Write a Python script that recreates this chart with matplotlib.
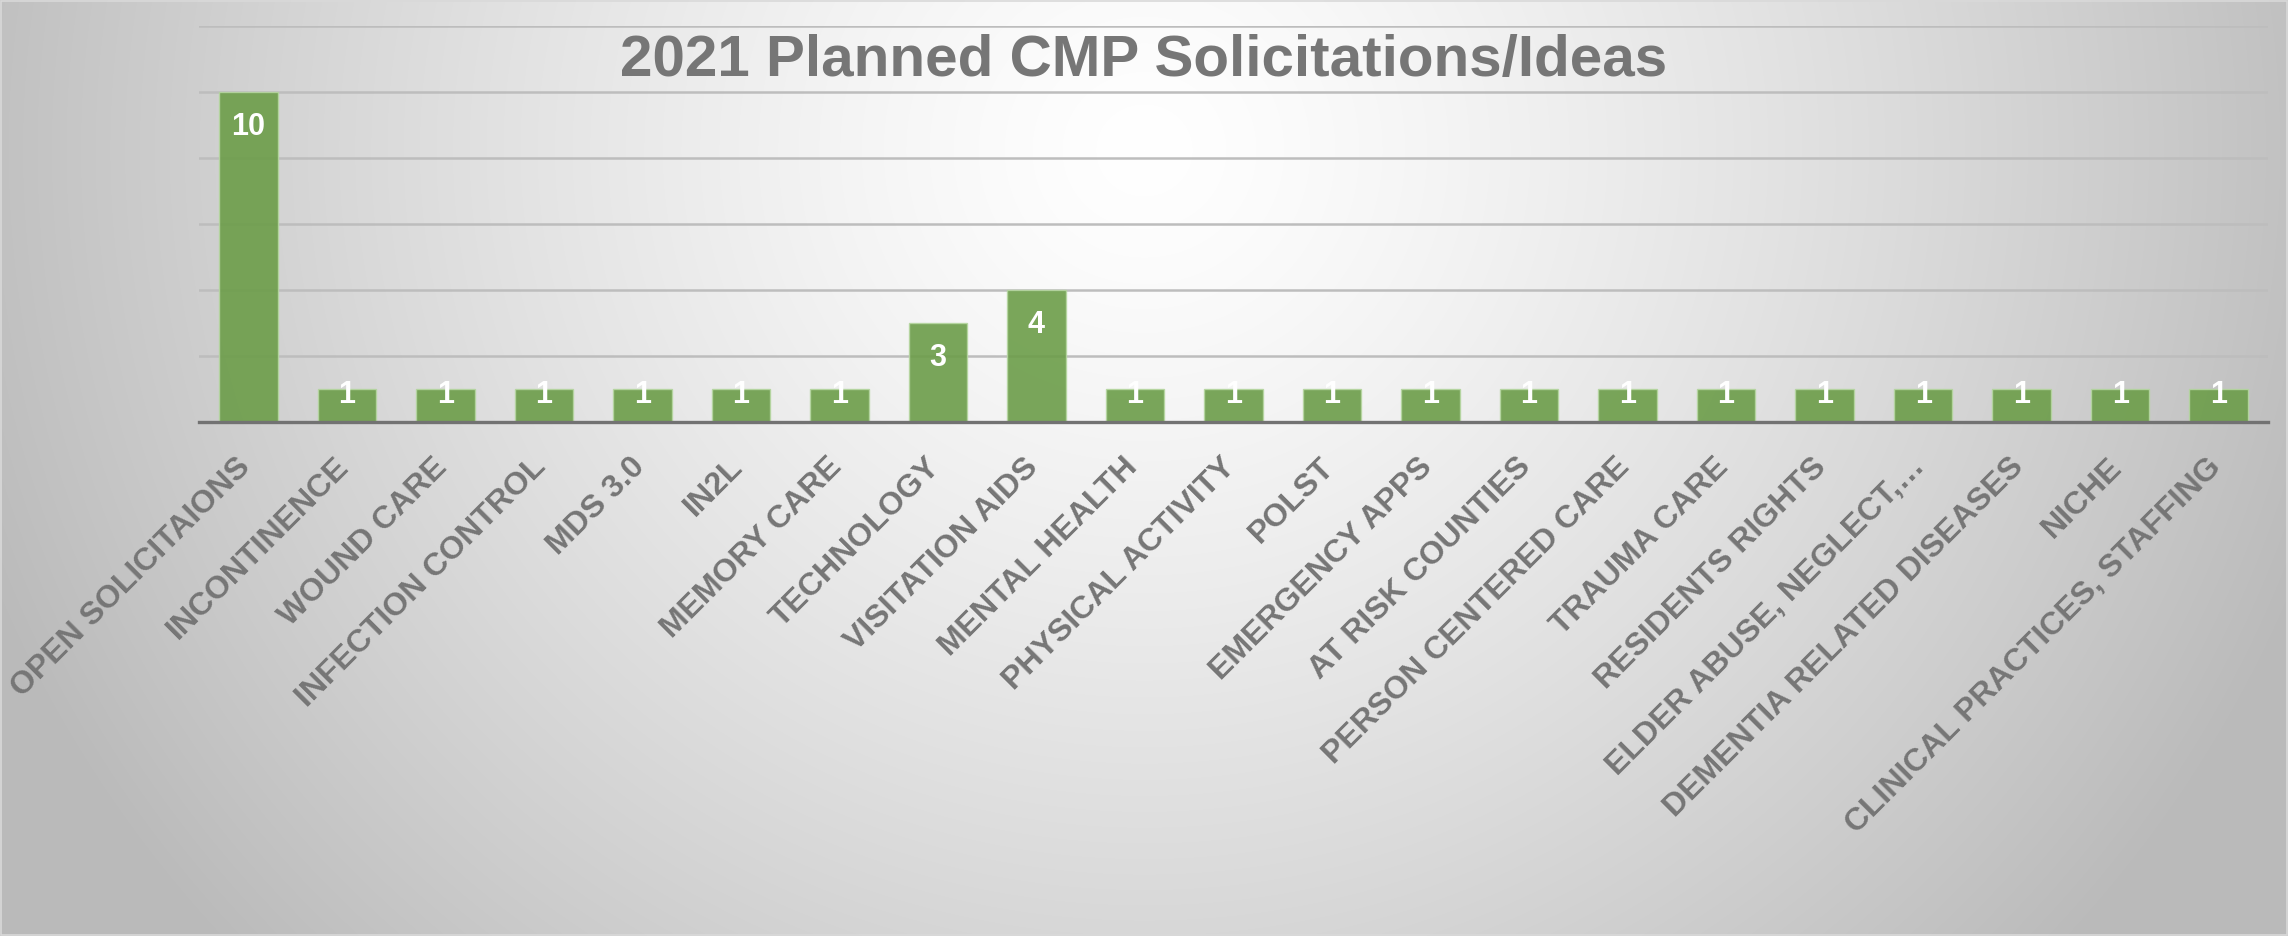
import numpy as np
import matplotlib
matplotlib.use("Agg")
import matplotlib.pyplot as plt
from matplotlib.transforms import ScaledTranslation
from matplotlib.patches import Rectangle

categories = [
    "OPEN SOLICITAIONS", "INCONTINENCE", "WOUND CARE", "INFECTION CONTROL",
    "MDS 3.0", "IN2L", "MEMORY CARE", "TECHNOLOGY", "VISITATION AIDS",
    "MENTAL HEALTH", "PHYSICAL ACTIVITY", "POLST", "EMERGENCY APPS",
    "AT RISK COUNTIES", "PERSON CENTERED CARE", "TRAUMA CARE",
    "RESIDENTS RIGHTS", "ELDER ABUSE, NEGLECT,…", "DEMENTIA RELATED DISEASES",
    "NICHE", "CLINICAL PRACTICES, STAFFING",
]
values = [10, 1, 1, 1, 1, 1, 1, 3, 4, 1, 1, 1, 1, 1, 1, 1, 1, 1, 1, 1, 1]
title = "2021 Planned CMP Solicitations/Ideas"

plt.rcParams['font.family'] = ['Liberation Sans', 'DejaVu Sans']

W, H, DPI = 2288, 936, 100
fig = plt.figure(figsize=(W / DPI, H / DPI), dpi=DPI)

# background radial gradient
bg = fig.add_axes([0, 0, 1, 1], zorder=-10)
yy, xx = np.mgrid[0:H, 0:W]
r = np.sqrt(((xx - 1144) / 1150.0) ** 2 + ((yy - 150) / 1100.0) ** 2)
shade = 255 - 62 * np.clip(r, 0, 1.15) ** 1.3
shade = np.clip(shade, 186, 255) / 255.0
img = np.dstack([shade, shade, shade])
bg.imshow(img, aspect='auto', extent=[0, 1, 0, 1], origin='upper')
bg.set_axis_off()
bg.add_patch(Rectangle((0.0005, 0.001), 0.999, 0.998, transform=bg.transAxes,
                       fill=False, edgecolor='#d9d9d9', lw=1.2))

left, right = 199 / W, 2268 / W
bottom, top = 1 - 421.5 / H, 1 - 25.7 / H
ax = fig.add_axes([left, bottom, right - left, top - bottom])
ax.patch.set_alpha(0)

x = np.arange(len(categories))
ax.bar(x, values, width=0.594, color='#6C9D49', alpha=0.9,
       edgecolor='#b5d6a0', linewidth=1.0, zorder=3)

ax.set_xlim(-0.5, len(categories) - 0.5)
ax.set_ylim(0, 12)
ax.set_yticks(np.arange(2, 13, 2))
ax.yaxis.grid(True, color='#bdbdbd', lw=1.8, zorder=0)
ax.set_axisbelow(True)
ax.tick_params(axis='y', left=False, labelleft=False)
ax.tick_params(axis='x', length=0, pad=22)
for s in ['top', 'right', 'left']:
    ax.spines[s].set_visible(False)
ax.spines['bottom'].set_color('#727272')
ax.spines['bottom'].set_linewidth(2.4)
ax.spines['bottom'].set_zorder(4)

ax.set_xticks(x)
ax.set_xticklabels(categories, rotation=45, ha='right', va='top',
                   rotation_mode='anchor', fontsize=23, fontweight='bold',
                   color='#767676')
off = ScaledTranslation(-13 / DPI, 0, fig.dpi_scale_trans)
for lab in ax.get_xticklabels():
    lab.set_transform(lab.get_transform() + off)

# data labels
unit_px = (421.5 - 25.7) / 12.0
for xi, v in zip(x, values):
    if v >= 2:
        yb = v - 43 / unit_px
    else:
        yb = v - 14.5 / unit_px
    ax.text(xi, yb, str(v), ha='center', va='baseline', fontsize=22,
            fontweight='bold', color='white', zorder=5)

fig.text(0.5, 1 - 76 / H, title, ha='center', va='baseline', fontsize=42,
         fontweight='bold', color='#767676')

fig.savefig("out.png", dpi=DPI)
